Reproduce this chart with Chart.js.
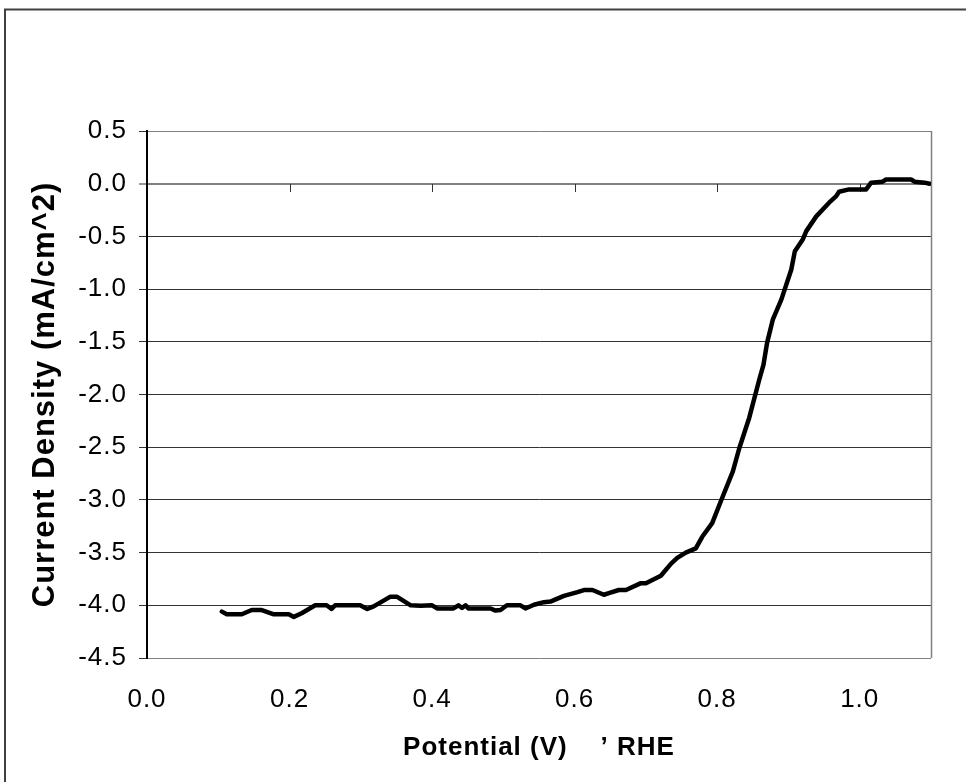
<!DOCTYPE html>
<html>
<head>
<meta charset="utf-8">
<script src="https://cdn.jsdelivr.net/npm/chart.js@4.4.1/dist/chart.umd.min.js"></script>
<style>
    html, body { margin: 0; padding: 0; background: #fff; }
    #wrap { width: 966px; height: 782px; }
</style>
</head>
<body>
<div id="wrap"><canvas id="chart_1"></canvas></div>
<script>
// potential (V vs RHE) and current density (mA/cm^2)
const potential = [
    0.105, 0.112, 0.133, 0.147, 0.161, 0.178, 0.199, 0.206, 0.217, 0.236,
    0.252, 0.259, 0.264, 0.299, 0.309, 0.318, 0.341, 0.351, 0.370, 0.384,
    0.400, 0.407, 0.430, 0.437, 0.442, 0.447, 0.451, 0.482, 0.489, 0.496,
    0.505, 0.524, 0.531, 0.543, 0.557, 0.566, 0.585, 0.604, 0.613, 0.625,
    0.641, 0.648, 0.662, 0.672, 0.693, 0.700, 0.721, 0.735, 0.744, 0.756,
    0.770, 0.779, 0.793, 0.805, 0.822, 0.831, 0.845, 0.859, 0.865, 0.870,
    0.878, 0.890, 0.904, 0.909, 0.920, 0.925, 0.939, 0.957, 0.967, 0.971,
    0.985, 1.009, 1.016, 1.032, 1.037, 1.072, 1.077, 1.091, 1.098
];
const current = [
    -4.06, -4.085, -4.085, -4.045, -4.045, -4.085, -4.085, -4.11, -4.075, -4.00,
    -4.00, -4.035, -4.00, -4.00, -4.035, -4.01, -3.92, -3.92, -4.00, -4.005,
    -4.00, -4.03, -4.03, -4.00, -4.025, -4.00, -4.03, -4.03, -4.05, -4.045,
    -4.00, -4.00, -4.03, -3.995, -3.97, -3.965, -3.91, -3.875, -3.855, -3.855,
    -3.90, -3.885, -3.855, -3.855, -3.79, -3.79, -3.72, -3.607, -3.55, -3.50,
    -3.46, -3.35, -3.22, -3.015, -2.73, -2.51, -2.22, -1.86, -1.717, -1.51,
    -1.29, -1.10, -0.814, -0.64, -0.53, -0.45, -0.31, -0.18, -0.118, -0.076,
    -0.054, -0.054, 0.01, 0.019, 0.04, 0.04, 0.019, 0.01, 0.0
];
const xTicks = [0.0, 0.2, 0.4, 0.6, 0.8, 1.0];
const yTicks = [0.5, 0.0, -0.5, -1.0, -1.5, -2.0, -2.5, -3.0, -3.5, -4.0, -4.5];

const FONT = "'Liberation Sans', Arial, sans-serif";

function fmt(v) {
    return Math.abs(v) < 1e-9 ? '0.0' : Number(v).toFixed(1);
}

const framePlugin = {
    id: 'frame',
    beforeDraw(chart) {
        const ctx = chart.ctx;
        ctx.save();
        ctx.fillStyle = '#fff';
        ctx.fillRect(0, 0, chart.width, chart.height);
        ctx.strokeStyle = '#404040';
        ctx.lineWidth = 2;
        ctx.strokeRect(5, 9.5, chart.width + 20, chart.height + 20);
        ctx.restore();
        ctx.letterSpacing = '1px';
    },
    beforeDatasetsDraw(chart) {
        const ctx = chart.ctx;
        const area = chart.chartArea;
        const xs = chart.scales.x;
        const y0 = Math.round(chart.scales.y.getPixelForValue(0));
        ctx.save();
        // right edge of the plot area
        ctx.strokeStyle = '#808080';
        ctx.lineWidth = 1.5;
        ctx.beginPath();
        ctx.moveTo(area.right + 0.5, area.top);
        ctx.lineTo(area.right + 0.5, area.bottom);
        ctx.stroke();
        // tick marks on the zero line
        ctx.strokeStyle = '#333';
        ctx.lineWidth = 1;
        ctx.beginPath();
        xs.ticks.forEach(function (t) {
            if (t.value <= 0) return;
            const x = Math.round(xs.getPixelForValue(t.value)) + 0.5;
            ctx.moveTo(x, y0);
            ctx.lineTo(x, y0 + 8);
        });
        ctx.stroke();
        ctx.restore();
    }
};

document.addEventListener("DOMContentLoaded", function () {

    const chart_1 = document.getElementById('chart_1');

    new Chart(chart_1, {
        type: 'line',
        data: {
            datasets: [
                {
                    data: potential.map((p, i) => ({ x: p, y: current[i] })),
                    borderColor: '#000',
                    borderWidth: 4.5,
                    borderJoinStyle: 'round',
                    borderCapStyle: 'round',
                    pointRadius: 0,
                    tension: 0,
                    fill: false
                }
            ]
        },
        options: {
            responsive: true,
            maintainAspectRatio: false,
            animation: false,
            layout: { padding: { left: 0, top: 131, right: 35, bottom: 0 } },
            plugins: {
                legend: { display: false },
                tooltip: { enabled: false }
            },
            scales: {
                x: {
                    type: 'linear',
                    min: 0,
                    max: 1.1,
                    afterBuildTicks: function (scale) {
                        scale.ticks = xTicks.map(v => ({ value: v }));
                    },
                    afterFit: function (scale) {
                        scale.height = 124;
                    },
                    grid: { display: false },
                    border: { display: false },
                    ticks: {
                        autoSkip: false,
                        maxRotation: 0,
                        padding: 18,
                        color: '#000',
                        font: { family: FONT, size: 26 },
                        callback: v => fmt(v)
                    },
                    title: {
                        display: true,
                        text: 'Potential (V)    \u2019 RHE',
                        color: '#000',
                        font: { family: FONT, size: 26, weight: 'bold' },
                        padding: { top: 0, bottom: 19 }
                    }
                },
                y: {
                    min: -4.5,
                    max: 0.5,
                    afterBuildTicks: function (scale) {
                        scale.ticks = yTicks.map(v => ({ value: v }));
                    },
                    afterFit: function (scale) {
                        scale.width = 147;
                    },
                    grid: {
                        color: c => {
                            const v = c.tick ? c.tick.value : null;
                            if (v === 0.5 || v === -4.5 || v === 0) return '#808080';
                            return '#333';
                        },
                        lineWidth: c => (c.tick && c.tick.value === 0) ? 2 : 1,
                        tickColor: '#333',
                        tickLength: 8,
                        tickWidth: 1
                    },
                    border: { color: '#000', width: 2 },
                    ticks: {
                        padding: 12,
                        color: '#000',
                        font: { family: FONT, size: 26 },
                        callback: v => fmt(v)
                    },
                    title: {
                        display: true,
                        text: 'Current Density (mA/cm^2)',
                        color: '#000',
                        font: { family: FONT, size: 31, weight: 'bold' },
                        padding: { top: 27, bottom: 0 }
                    }
                }
            }
        },
        plugins: [framePlugin]
    });
});
</script>
</body>
</html>
